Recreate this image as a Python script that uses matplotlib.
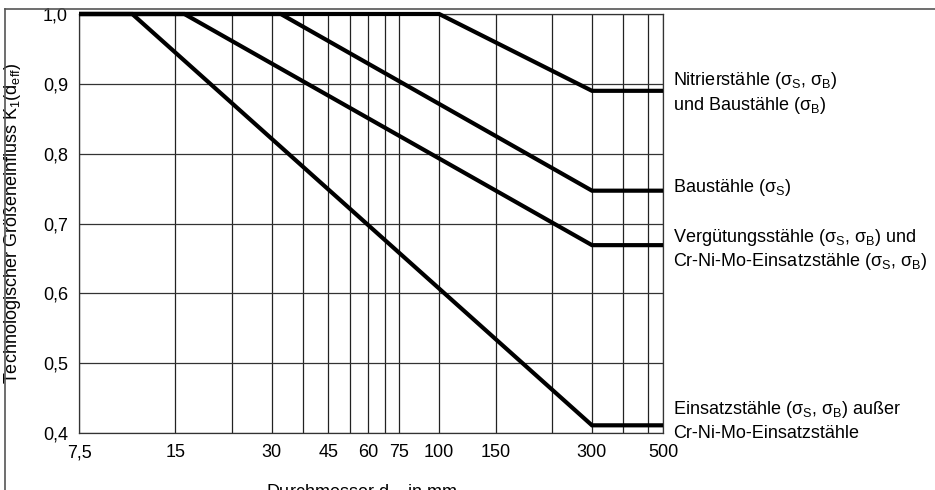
import matplotlib
matplotlib.use("Agg")
import matplotlib.pyplot as plt
from matplotlib.lines import Line2D
from matplotlib.ticker import NullLocator
import matplotlib.transforms as mtransforms

plt.rcParams["font.family"] = ["Liberation Sans", "DejaVu Sans"]
plt.rcParams["mathtext.fontset"] = "custom"
plt.rcParams["mathtext.rm"] = "Liberation Sans"
plt.rcParams["mathtext.it"] = "Liberation Sans"
plt.rcParams["mathtext.bf"] = "Liberation Sans:bold"

# grid positions and labelled ticks (diameter in mm)
grid_x = [7.5, 15, 22.5, 30, 37.5, 45, 52.5, 60, 67.5, 75, 100, 150, 225,
          300, 375, 450, 500]
tick_labels = {7.5: "7,5", 15: "15", 30: "30", 45: "45", 60: "60", 75: "75",
               100: "100", 150: "150", 300: "300", 500: "500"}
grid_y = [0.4, 0.5, 0.6, 0.7, 0.8, 0.9, 1.0]

# curves: breakpoints (d, K1)
nitrier_d = [7.5, 100, 300, 500]
nitrier_k = [1.0, 1.0, 0.89, 0.89]
bau_d = [7.5, 32, 300, 500]
bau_k = [1.0, 1.0, 0.747, 0.747]
verg_d = [7.5, 16, 300, 500]
verg_k = [1.0, 1.0, 0.669, 0.669]
einsatz_d = [7.5, 11, 300, 500]
einsatz_k = [1.0, 1.0, 0.411, 0.411]

fig = plt.figure(figsize=(9.35, 4.9), dpi=100)
ax = fig.add_axes([79 / 935, 57 / 490, 584 / 935, 419 / 490])

ax.set_xscale("log")
ax.set_xlim(7.5, 500)
ax.set_ylim(0.4, 1.0)

for x in grid_x:
    ax.axvline(x, color="#222222", lw=0.9, zorder=1)
for y in grid_y:
    ax.axhline(y, color="#333333", lw=0.9, zorder=1)

for d, k in [(nitrier_d, nitrier_k), (bau_d, bau_k), (verg_d, verg_k),
             (einsatz_d, einsatz_k)]:
    ax.plot(d, k, color="black", lw=3.0, solid_capstyle="butt",
            solid_joinstyle="miter", zorder=3, clip_on=False)

ax.xaxis.set_minor_locator(NullLocator())
ax.set_xticks(grid_x)
ax.set_xticklabels([tick_labels.get(x, "") for x in grid_x])
ax.set_yticks(grid_y)
ax.set_yticklabels([f"{v:.1f}".replace(".", ",") for v in grid_y])
ax.tick_params(axis="both", length=0, labelsize=13)
ax.tick_params(axis="x", pad=8)
ax.tick_params(axis="y", pad=8)
for s in ax.spines.values():
    s.set_color("#333333")
    s.set_linewidth(0.9)

ax.set_ylabel(r"Technologischer Größeneinfluss K$_1$(d$_\mathrm{eff}$)",
              fontsize=13)
ax.yaxis.set_label_coords(-56 / 584, 0.5)

fig.text(362 / 935, -2 / 490, r"Durchmesser d$_\mathrm{eff}$ in mm",
         fontsize=13, ha="center", va="center")

# curve labels on the right
trans = mtransforms.blended_transform_factory(ax.transAxes, ax.transData)
sS = r"$\sigma_\mathrm{S}$"
sB = r"$\sigma_\mathrm{B}$"
labels = [
    (0.905, f"Nitrierstähle ({sS}, {sB})"),
    (0.869, f"und Baustähle ({sB})"),
    (0.751, f"Baustähle ({sS})"),
    (0.680, f"Vergütungsstähle ({sS}, {sB}) und"),
    (0.645, f"Cr-Ni-Mo-Einsatzstähle ({sS}, {sB})"),
    (0.433, f"Einsatzstähle ({sS}, {sB}) außer"),
    (0.400, "Cr-Ni-Mo-Einsatzstähle"),
]
for y, txt in labels:
    ax.text(594 / 584, y, txt, transform=trans, fontsize=13, ha="left",
            va="center", clip_on=False)

# outer frame (cropped at right and bottom)
fx = 5 / 935
fy = 1 - 9 / 490
fig.add_artist(Line2D([fx, fx], [fy, 0], transform=fig.transFigure,
                      color="#555555", lw=1.2))
fig.add_artist(Line2D([fx, 1], [fy, fy], transform=fig.transFigure,
                      color="#555555", lw=1.2))

fig.savefig("out.png", dpi=100)
